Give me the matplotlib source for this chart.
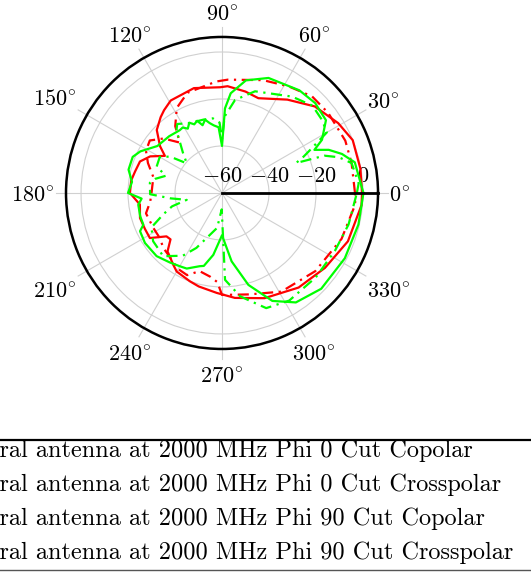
import matplotlib
matplotlib.use('Agg')
import matplotlib.pyplot as plt
import numpy as np
from matplotlib.lines import Line2D

plt.rcParams['mathtext.fontset'] = 'cm'
plt.rcParams['axes.formatter.use_mathtext'] = True

# Spiral antenna, 2000 MHz, gain in dB against angle in degrees
phi0_co_ang = [0, 10, 22, 31, 43, 55, 69, 77, 87, 91, 105, 119, 125, 129, 136, 143, 147,
               153, 159, 166, 172, 180, 188, 197, 205, 212, 218, 222, 227, 236, 240, 250,
               256, 267, 277, 292, 309, 324, 339, 355]
phi0_co_db = [-0.4, -0.2, 0.0, -2.3, -6.0, -11.5, -16.8, -15.7, -14.5, -15.0, -13.8, -15.0,
              -17.0, -18.5, -21.4, -27.0, -31.0, -25.7, -22.6, -21.9, -21.0, -20.8, -24.7,
              -23.5, -23.8, -23.8, -30.0, -30.5, -26.0, -23.0, -21.4, -20.0, -19.0, -17.4,
              -15.0, -11.7, -8.2, -5.8, -2.6, -0.4]

phi0_cross_ang = [0, 13, 23, 37, 47, 58, 70, 87, 93, 109, 118, 125, 130, 137, 144, 151, 158,
                  167, 180, 187, 195, 207, 216, 223, 235, 239, 247, 254, 262, 267, 270, 285,
                  301, 320, 339, 355]
phi0_cross_db = [-3.4, -3.4, -3.0, -3.4, -3.8, -6.5, -8.9, -11.7, -12.5, -14.9, -19.0, -25.3,
                 -32.0, -26.0, -22.0, -23.0, -26.0, -30.0, -30.0, -29.2, -26.5, -27.2, -27.3,
                 -25.8, -24.0, -22.7, -22.0, -25.4, -24.0, -22.0, -16.6, -15.3, -11.0, -8.2,
                 -5.5, -3.1]

phi90_co_ang = [0, 13, 18, 22, 25, 28, 35, 44, 53, 68, 78, 85, 88, 90, 93, 97, 100, 103, 106,
                109, 112, 115, 118, 121, 124, 133, 144, 153, 158, 166, 173, 180, 184, 188,
                196, 202, 205, 213, 224, 233, 240, 245, 253, 256, 262, 270, 278, 286, 295,
                304, 316, 332, 347]
phi90_co_db = [0.2, -2.0, -6.3, -11.0, -16.6, -11.8, -6.0, -4.9, -5.3, -7.2, -11.0, -17.4,
               -24.0, -40.0, -32.0, -31.0, -29.8, -28.0, -30.0, -27.5, -28.5, -27.0, -29.0,
               -27.5, -27.8, -27.0, -26.0, -21.0, -19.0, -19.0, -21.4, -20.0, -25.7, -24.0,
               -23.8, -23.9, -21.5, -20.9, -21.3, -23.0, -24.0, -24.5, -27.4, -28.0, -33.4,
               -42.0, -30.6, -19.3, -9.3, -3.8, -1.3, -0.8, -0.4]

phi90_cross_ang = [0, 4, 13, 17, 20, 22, 24, 26, 30, 36, 44, 54, 72, 82, 88, 90, 92, 97, 104,
                   115, 123, 126, 130, 134, 140, 145, 150, 158, 163, 168, 172, 181, 186, 191,
                   195, 200, 206, 215, 223, 227, 238, 245, 254, 262, 269, 272, 280, 291, 302,
                   318, 333, 346]
phi90_cross_db = [-2.6, -1.7, -3.4, -8.0, -13.6, -26.0, -22.0, -18.3, -8.5, -7.3, -6.5, -9.3,
                  -14.5, -20.0, -27.4, -37.0, -30.0, -28.0, -27.8, -27.2, -25.0, -27.0, -32.3,
                  -36.0, -40.4, -33.0, -29.4, -30.0, -35.0, -31.0, -29.0, -29.4, -38.0, -44.7,
                  -38.0, -33.4, -26.6, -24.2, -23.8, -23.2, -28.5, -34.2, -41.5, -45.0, -53.0,
                  -23.0, -15.3, -7.5, -6.0, -6.3, -6.0, -4.5]

labels = ['Spiral antenna at 2000 MHz Phi 0 Cut Copolar',
          'Spiral antenna at 2000 MHz Phi 0 Cut Crosspolar',
          'Spiral antenna at 2000 MHz Phi 90 Cut Copolar',
          'Spiral antenna at 2000 MHz Phi 90 Cut Crosspolar']

r_ticks = [-60, -40, -20, 0]
theta_ticks = [0, 30, 60, 90, 120, 150, 180, 210, 240, 270, 300, 330]
r_min, r_max = -60, 6.4

dashdot = (0, (5, 2.5, 1, 2.5))
series = [
    (phi0_co_ang, phi0_co_db, '#ff0000', '-'),
    (phi0_cross_ang, phi0_cross_db, '#ff0000', dashdot),
    (phi90_co_ang, phi90_co_db, '#00ff00', '-'),
    (phi90_cross_ang, phi90_cross_db, '#00ff00', dashdot),
]


def closed(ang, db):
    a = np.deg2rad(np.append(ang, ang[0]))
    d = np.append(db, db[0])
    return a, d


fig = plt.figure(figsize=(5.31, 5.72), dpi=100)
ax = fig.add_axes([0.1243, 0.3899, 0.5876, 0.5455], projection='polar')
ax.set_ylim(r_min, r_max)
ax.set_xticks(np.deg2rad(theta_ticks))
ax.set_xticklabels([])
ax.set_yticks(r_ticks[1:])
ax.set_yticklabels([])
ax.xaxis.grid(False)
ax.yaxis.grid(True, color='#d0d0d0', linewidth=0.8)
ax.spines['polar'].set_linewidth(1.8)
ax.spines['polar'].set_color('black')

# spokes run a little past the outer circle
for t in theta_ticks:
    ax.plot([np.deg2rad(t)] * 2, [r_min, r_max + 4.3], color='#d0d0d0', linewidth=0.8,
            zorder=0.5, clip_on=False)

handles = []
for ang, db, col, ls in series:
    a, d = closed(ang, db)
    ln, = ax.plot(a, d, color=col, linestyle=ls, linewidth=1.6, zorder=3)
    handles.append(ln)

# polar axis line along 0 deg
ax.plot([0, 0], [r_min, r_max], color='black', linewidth=2.0, zorder=4, clip_on=False)

for v in r_ticks:
    ax.annotate(r'$%d$' % v, xy=(0, v), xytext=(0, 5), textcoords='offset points',
                ha='center', va='bottom', fontsize=16, zorder=1)

# angle labels: padded box sits a fixed gap outside the circle
fig.canvas.draw()
renderer = fig.canvas.get_renderer()
px = 72 / fig.dpi
for t in theta_ticks:
    c, s = np.cos(np.deg2rad(t)), np.sin(np.deg2rad(t))
    txt = ax.annotate(r'$%d^{\!\circ}$' % t, xy=(np.deg2rad(t), r_max), xytext=(0, 0),
                      textcoords='offset points', ha='center', va='center', fontsize=16,
                      annotation_clip=False)
    bb = txt.get_window_extent(renderer)
    hw, hh = bb.width / 2 + 5, bb.height / 2 + 9
    tt = min(hw / abs(c) if abs(c) > 1e-6 else 1e9, hh / abs(s) if abs(s) > 1e-6 else 1e9)
    d = 6 + tt
    txt.set_position((d * c * px, (d * s - 3) * px))

leg_top = 1 - 440 / 572
leg = fig.legend(handles, labels, loc='upper left', bbox_to_anchor=(0, leg_top),
                 prop={'family': 'cmr10', 'size': 17.5}, frameon=False,
                 borderpad=0, labelspacing=0.47, handlelength=2.5, borderaxespad=0)
fig.canvas.draw()
# shift the legend so that the first three letters fall off the left edge
x_text = leg.get_texts()[0].get_window_extent(renderer).x0
probe = fig.text(0, 0, 'Spi', family='cmr10', size=17.5)
w_pre = probe.get_window_extent(renderer).width
probe.remove()
shift = -w_pre - x_text
leg.set_bbox_to_anchor((shift / fig.bbox.width, leg_top), transform=fig.transFigure)

fig.add_artist(Line2D([0, 1], [leg_top, leg_top], color='black', linewidth=1.6,
                      transform=fig.transFigure))
fig.add_artist(Line2D([0, 1], [1 - 570 / 572] * 2, color='#555555', linewidth=1.0,
                      transform=fig.transFigure))

fig.savefig('out.png', dpi=100)
